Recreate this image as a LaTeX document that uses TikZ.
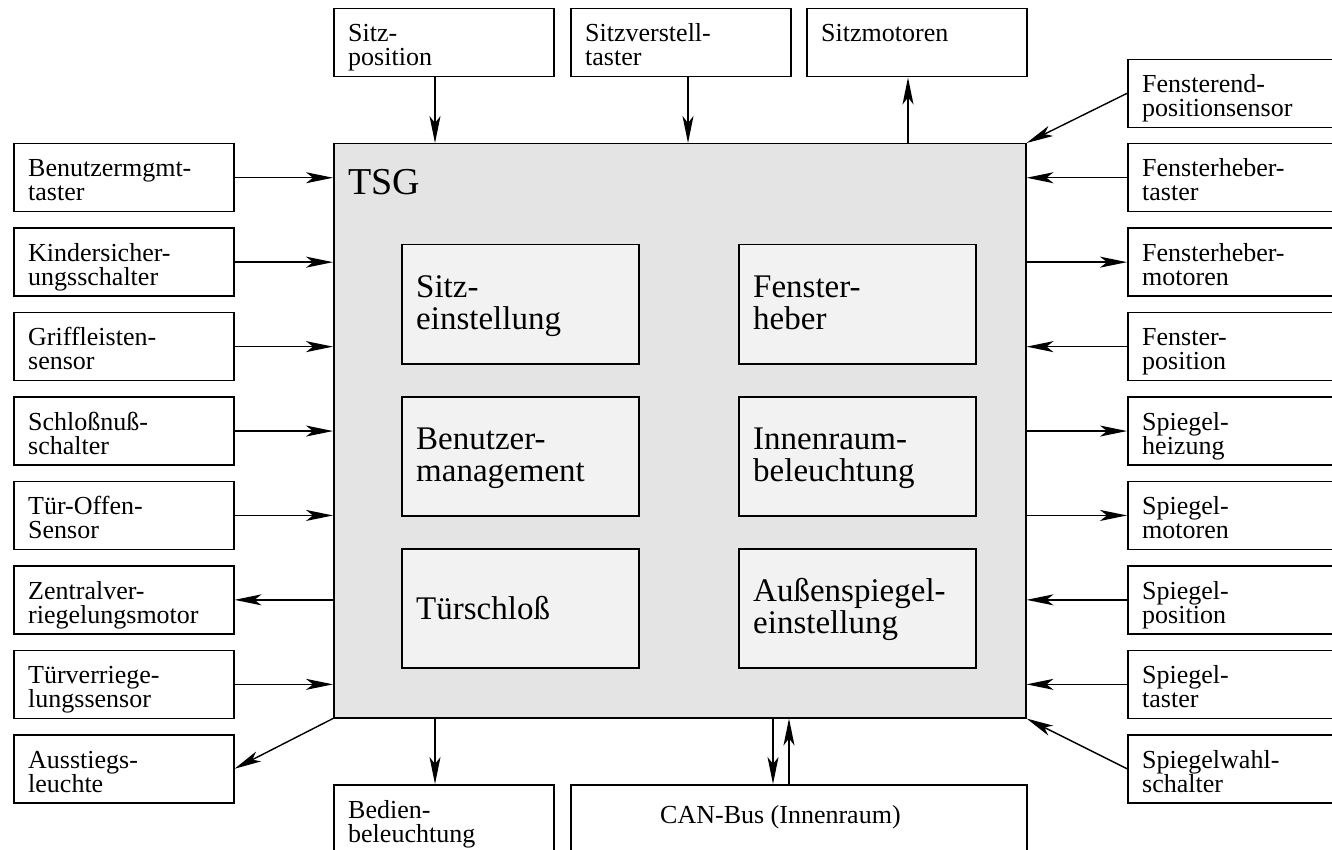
\documentclass[tikz,border=0pt]{standalone}
\usepackage{fontspec}
\setmainfont{Liberation Serif}
\usetikzlibrary{arrows.meta}
\definecolor{tsgfill}{RGB}{228,228,228}
\definecolor{innerfill}{RGB}{242,242,242}
\newcommand\twolines[2]{\vtop{\baselineskip=24pt\lineskiplimit=-100pt\hbox{#1}\hbox{#2}}}
\newcommand\twolinesbig[2]{\vtop{\baselineskip=32pt\lineskiplimit=-100pt\hbox{#1}\hbox{#2}}}
\begin{document}
\begin{tikzpicture}[x=1pt,y=-1pt,
  obox/.style={draw, line width=1.5pt, fill=white, minimum width=220pt, minimum height=68pt, anchor=north west, inner sep=0pt},
  olabel/.style={anchor=base west, inner sep=0pt, font=\fontsize{26pt}{24pt}\selectfont},
  ibox/.style={draw, line width=1.5pt, fill=innerfill, minimum width=237pt, minimum height=119pt, anchor=north west, inner sep=0pt},
  ilabel/.style={anchor=base west, inner sep=0pt, font=\fontsize{33pt}{32pt}\selectfont},
  arr/.style={line width=1.4pt, -{Stealth[length=27pt,width=11pt,inset=7pt]}},
]
\useasboundingbox (0,0) rectangle (1332,850);

% main box
\node[draw, line width=1.5pt, fill=tsgfill, minimum width=692pt, minimum height=574pt, anchor=north west, inner sep=0pt] (tsg) at (333,143) {};
\node[anchor=base west, inner sep=0pt, font=\fontsize{38pt}{40pt}\selectfont] (tsgt) at (348,195) {TSG};

% inner boxes
\node[ibox] (i1) at (401,244) {};
\node[ilabel] (i1t) at ([shift={(15,53)}]i1.north west) {\twolinesbig{Sitz-}{einstellung}};
\node[ibox] (i2) at (738,244) {};
\node[ilabel] (i2t) at ([shift={(15,53)}]i2.north west) {\twolinesbig{Fenster-}{heber}};
\node[ibox] (i3) at (401,396) {};
\node[ilabel] (i3t) at ([shift={(15,53)}]i3.north west) {\twolinesbig{Benutzer-}{management}};
\node[ibox] (i4) at (738,396) {};
\node[ilabel] (i4t) at ([shift={(15,53)}]i4.north west) {\twolinesbig{Innenraum-}{beleuchtung}};
\node[ibox] (i5) at (401,548) {};
\node[ilabel] (i5t) at ([shift={(15,71)}]i5.north west) {Türschloß};
\node[ibox] (i6) at (738,548) {};
\node[ilabel] (i6t) at ([shift={(15,53)}]i6.north west) {\twolinesbig{Außenspiegel-}{einstellung}};

% left boxes
\node[obox] (L1) at (13,143.0) {};
\node[olabel] (L1t) at ([shift={(15,34)}]L1.north west) {\twolines{Benutzermgmt-}{taster}};
\node[obox] (L2) at (13,227.4) {};
\node[olabel] (L2t) at ([shift={(15,34)}]L2.north west) {\twolines{Kindersicher-}{ungsschalter}};
\node[obox] (L3) at (13,311.9) {};
\node[olabel] (L3t) at ([shift={(15,34)}]L3.north west) {\twolines{Griffleisten-}{sensor}};
\node[obox] (L4) at (13,396.3) {};
\node[olabel] (L4t) at ([shift={(15,34)}]L4.north west) {\twolines{Schloßnuß-}{schalter}};
\node[obox] (L5) at (13,480.7) {};
\node[olabel] (L5t) at ([shift={(15,34)}]L5.north west) {\twolines{Tür-Offen-}{Sensor}};
\node[obox] (L6) at (13,565.1) {};
\node[olabel] (L6t) at ([shift={(15,34)}]L6.north west) {\twolines{Zentralver-}{riegelungsmotor}};
\node[obox] (L7) at (13,649.6) {};
\node[olabel] (L7t) at ([shift={(15,34)}]L7.north west) {\twolines{Türverriege-}{lungssensor}};
\node[obox] (L8) at (13,734.0) {};
\node[olabel] (L8t) at ([shift={(15,34)}]L8.north west) {\twolines{Ausstiegs-}{leuchte}};

% right boxes
\node[obox] (R0) at (1127,58.6) {};
\node[olabel] (R0t) at ([shift={(15,34)}]R0.north west) {\twolines{Fensterend-}{positionsensor}};
\node[obox] (R1) at (1127,143.0) {};
\node[olabel] (R1t) at ([shift={(15,34)}]R1.north west) {\twolines{Fensterheber-}{taster}};
\node[obox] (R2) at (1127,227.4) {};
\node[olabel] (R2t) at ([shift={(15,34)}]R2.north west) {\twolines{Fensterheber-}{motoren}};
\node[obox] (R3) at (1127,311.9) {};
\node[olabel] (R3t) at ([shift={(15,34)}]R3.north west) {\twolines{Fenster-}{position}};
\node[obox] (R4) at (1127,396.3) {};
\node[olabel] (R4t) at ([shift={(15,34)}]R4.north west) {\twolines{Spiegel-}{heizung}};
\node[obox] (R5) at (1127,480.7) {};
\node[olabel] (R5t) at ([shift={(15,34)}]R5.north west) {\twolines{Spiegel-}{motoren}};
\node[obox] (R6) at (1127,565.1) {};
\node[olabel] (R6t) at ([shift={(15,34)}]R6.north west) {\twolines{Spiegel-}{position}};
\node[obox] (R7) at (1127,649.6) {};
\node[olabel] (R7t) at ([shift={(15,34)}]R7.north west) {\twolines{Spiegel-}{taster}};
\node[obox] (R8) at (1127,734.0) {};
\node[olabel] (R8t) at ([shift={(15,34)}]R8.north west) {\twolines{Spiegelwahl-}{schalter}};

% top boxes
\node[obox] (T1) at (333,8) {};
\node[olabel] (T1t) at ([shift={(15,34)}]T1.north west) {\twolines{Sitz-}{position}};
\node[obox] (T2) at (570,8) {};
\node[olabel] (T2t) at ([shift={(15,34)}]T2.north west) {\twolines{Sitzverstell-}{taster}};
\node[obox] (T3) at (806,8) {};
\node[olabel] (T3t) at ([shift={(15,34)}]T3.north west) {Sitzmotoren};

% bottom boxes
\node[obox] (B1) at (333,784) {};
\node[olabel] (B1t) at ([shift={(15,34)}]B1.north west) {\twolines{Bedien-}{beleuchtung}};
\node[obox, minimum width=456pt] (B2) at (570,784) {};
\node[olabel] (B2t) at ([shift={(90,39)}]B2.north west) {CAN-Bus (Innenraum)};

% left connectors
\draw[arr] (L1.east) -- (L1.east -| tsg.west);
\draw[arr] (L2.east) -- (L2.east -| tsg.west);
\draw[arr] (L3.east) -- (L3.east -| tsg.west);
\draw[arr] (L4.east) -- (L4.east -| tsg.west);
\draw[arr] (L5.east) -- (L5.east -| tsg.west);
\draw[arr] (L6.east -| tsg.west) -- (L6.east);
\draw[arr] (L7.east) -- (L7.east -| tsg.west);
\draw[arr] (tsg.south west) -- (L8.east);

% right connectors
\draw[arr] (R0.west) -- (tsg.north east);
\draw[arr] (R1.west) -- (R1.west -| tsg.east);
\draw[arr] (R2.west -| tsg.east) -- (R2.west);
\draw[arr] (R3.west) -- (R3.west -| tsg.east);
\draw[arr] (R4.west -| tsg.east) -- (R4.west);
\draw[arr] (R5.west -| tsg.east) -- (R5.west);
\draw[arr] (R6.west) -- (R6.west -| tsg.east);
\draw[arr] (R7.west) -- (R7.west -| tsg.east);
\draw[arr] (R8.west) -- (tsg.south east);

% top connectors
\coordinate (t1o) at ([xshift=102pt]T1.south west);
\coordinate (t2o) at ([xshift=118pt]T2.south west);
\coordinate (t3o) at ([xshift=102pt]T3.south west);
\draw[arr] (t1o) -- (t1o |- tsg.north);
\draw[arr] (t2o) -- (t2o |- tsg.north);
\draw[arr] (t3o |- tsg.north) -- (t3o);

% bottom connectors
\coordinate (b1o) at ([xshift=102pt]B1.north west);
\coordinate (b2d) at ([xshift=203pt]B2.north west);
\coordinate (b2u) at ([xshift=219pt]B2.north west);
\draw[arr] (b1o |- tsg.south) -- (b1o);
\draw[arr] (b2d |- tsg.south) -- (b2d);
\draw[arr] (b2u) -- (b2u |- tsg.south);
\end{tikzpicture}
\end{document}
